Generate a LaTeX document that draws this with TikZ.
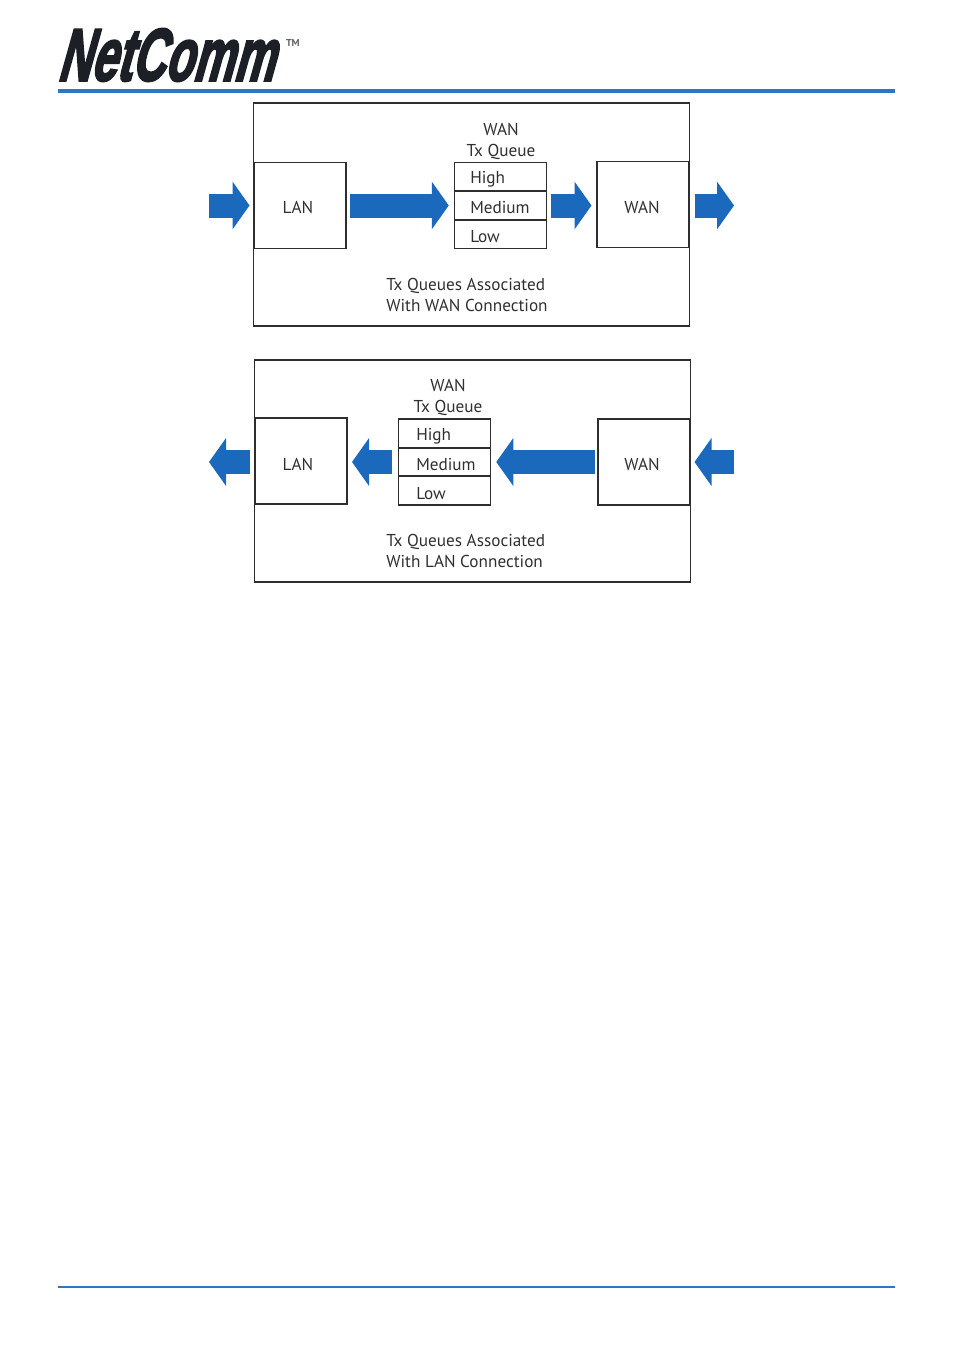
\documentclass[tikz,border=0pt]{standalone}
\usepackage{fontspec}
\setmainfont{PT Sans}
\newfontfamily\logofont[FakeSlant=0.45,FakeBold=3.5]{Liberation Sans Bold}
\usetikzlibrary{arrows.meta, positioning, calc}
\definecolor{rulecolor}{HTML}{2B76C6}
\definecolor{flowcolor}{HTML}{1B69BD}
\definecolor{boxcolor}{HTML}{2E2E2E}
\definecolor{textcolor}{HTML}{303030}
\definecolor{logocolor}{HTML}{1C2026}

\begin{document}
\begin{tikzpicture}[
    x=1pt, y=-1pt,
    every node/.style={font=\fontsize{17.2}{21}\selectfont, text=textcolor, outer sep=0pt},
    framebox/.style={draw=boxcolor, line width=1.5pt, minimum width=436pt, minimum height=223pt, inner sep=0pt},
    portbox/.style={draw=boxcolor, line width=1.3pt, minimum width=92pt, minimum height=86pt},
    rowbox/.style={draw=boxcolor, line width=1.5pt, minimum height=28.7pt, text width=60pt,
        inner xsep=16pt, inner ysep=0pt, align=left, text depth=0pt},
    lab/.style={align=center},
    captext/.style={align=left, anchor=west},
    flow/.style={draw=flowcolor, line width=24pt,
        -{Triangle[length=17pt, width=47pt, fill=flowcolor]}},
]
\useasboundingbox (0,0) rectangle (953,1352);

% ================================================================ page head and foot
\node[anchor=west, inner sep=0pt, text=logocolor, xscale=0.62, font=\logofont\fontsize{74}{74}\selectfont]
    (logo) at (57,55) {NetComm};
\node[anchor=west, inner sep=0pt, text=logocolor!70, font=\fontsize{10}{10}\selectfont\bfseries]
    (logotm) at (286,43) {TM};
\fill[rulecolor] (58,89) rectangle (895,93);
\fill[rulecolor] (58,1286.2) rectangle (895,1287.8);

% ================================================================ upper: towards the WAN
\node[framebox] (frameA) at (471.5,214.5) {};
\node[portbox] (lanA) at (300,205.2) {};
\node at (298,207) (lanAtext) {LAN};
\node[portbox] (wanA) at (643,204.3) {};
\node at (642,207) (wanAtext) {WAN};

\node[lab] (titleA) at (501,141.5) {WAN\\Tx Queue};
\foreach \r/\y/\h/\t in {1/177/12/High, 2/205.5/16/Medium, 3/234/16/Low}{
    \node[rowbox, text height=\h pt] (queueA\r) at (500.25,\y) {\t};
}
\node[captext] (capA) at (383,295) {Tx Queues Associated\\With WAN Connection};

% the flow, left to right
\coordinate (inA) at (209,205.5);
\coordinate (outA) at (734,205.5);
\draw[flow, shorten >=4.5pt] (inA) -- (inA -| lanA.west);
\draw[flow, shorten <=4pt, shorten >=5.5pt] (lanA.east |- inA) -- (queueA2.west);
\draw[flow, shorten <=4.5pt, shorten >=5.5pt] (queueA2.east) -- (queueA2.east -| wanA.west);
\draw[flow, shorten <=5.5pt] (wanA.east |- outA) -- (outA);

% ================================================================ lower: towards the LAN
\node[framebox, minimum height=222pt] (frameB) at (472.5,471) {};
\node[portbox] (lanB) at (301,461) {};
\node at (298,464) (lanBtext) {LAN};
\node[portbox] (wanB) at (644,462) {};
\node at (642,464) (wanBtext) {WAN};

\node[lab] (titleB) at (448,397.5) {WAN\\Tx Queue};
\foreach \r/\y/\h/\t in {1/433.5/14/High, 2/462/16/Medium, 3/490.5/18/Low}{
    \node[rowbox, text height=\h pt, text width=56pt, inner xsep=18pt] (queueB\r) at (444.25,\y) {\t};
}
\node[captext] (capB) at (383,551) {Tx Queues Associated\\With LAN Connection};

% the flow, right to left
\coordinate (inB) at (734,462);
\coordinate (outB) at (209,462);
\draw[flow, shorten >=4.5pt] (inB) -- (wanB.east);
\draw[flow, shorten <=3.5pt, shorten >=6pt] (wanB.west) -- (queueB2.east);
\draw[flow, shorten <=6pt, shorten >=5pt] (queueB2.west) -- (queueB2.west -| lanB.east);
\draw[flow, shorten <=5.5pt] (lanB.west |- outB) -- (outB);
\end{tikzpicture}
\end{document}
